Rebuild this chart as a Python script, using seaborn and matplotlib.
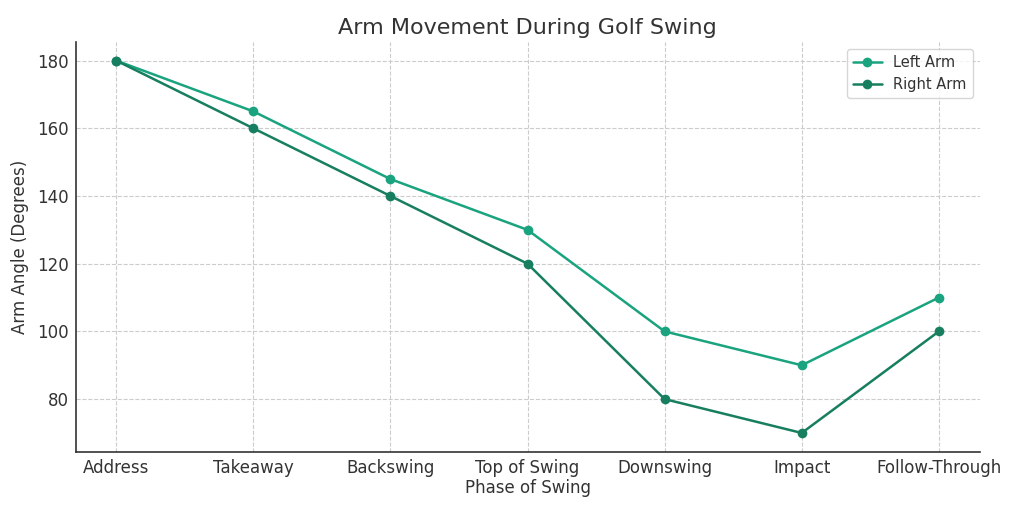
import matplotlib
matplotlib.use('Agg')
import matplotlib.pyplot as plt
import seaborn as sns
import pandas as pd

# 数据
phases = ['Address', 'Takeaway', 'Backswing', 'Top of Swing', 'Downswing', 'Impact', 'Follow-Through']
left_arm = [180, 165, 145, 130, 100, 90, 110]
right_arm = [180, 160, 140, 120, 80, 70, 100]

sns.set_style("white")
plt.rcParams['font.family'] = ['DejaVu Sans']

df = pd.DataFrame({
    'Phase': phases * 2,
    'Angle': left_arm + right_arm,
    'Arm': ['Left Arm'] * len(phases) + ['Right Arm'] * len(phases),
})

fig, ax = plt.subplots(figsize=(10.24, 5.12), dpi=100)
sns.lineplot(data=df, x='Phase', y='Angle', hue='Arm', marker='o', markersize=7,
             markeredgewidth=0, linewidth=1.8, sort=False,
             palette=['#1aa37f', '#177e5f'], ax=ax)

ax.grid(True, linestyle='--', color='#cccccc', linewidth=0.8)
ax.set_axisbelow(True)
for s in ['top', 'right']:
    ax.spines[s].set_visible(False)
for s in ['left', 'bottom']:
    ax.spines[s].set_color('#333333')
    ax.spines[s].set_linewidth(1.2)

ax.set_title('Arm Movement During Golf Swing', fontsize=16, color='#333333')
ax.set_xlabel('Phase of Swing', fontsize=12, color='#333333', labelpad=2)
ax.set_ylabel('Arm Angle (Degrees)', fontsize=12, color='#333333', labelpad=6)
ax.tick_params(axis='both', labelsize=12, colors='#333333', length=3, pad=2)
ax.set_yticks([80, 100, 120, 140, 160, 180])
ax.set_ylim(64.5, 185.5)
ax.set_xlim(-0.295, 6.3)

leg = ax.legend(loc='upper right', fontsize=10.5, frameon=True)
leg.set_title(None)
for t in leg.get_texts():
    t.set_color('#333333')

plt.subplots_adjust(left=0.074, right=0.957, top=0.918, bottom=0.118)
plt.savefig('out.png', dpi=100)
